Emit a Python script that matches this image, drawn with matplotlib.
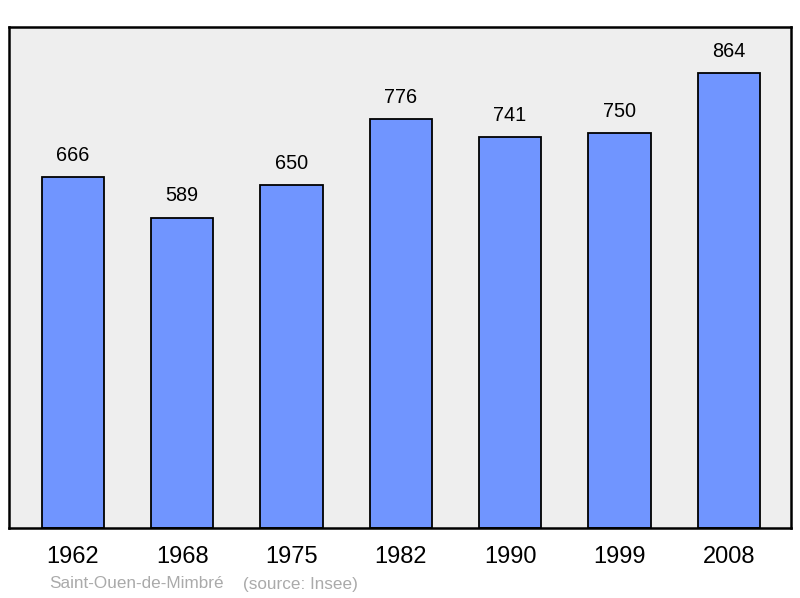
import matplotlib.pyplot as plt

years = ['1962', '1968', '1975', '1982', '1990', '1999', '2008']
population = [666, 589, 650, 776, 741, 750, 864]
commune = 'Saint-Ouen-de-Mimbré'
source = '(source: Insee)'

plt.rcParams['font.family'] = ['Liberation Sans', 'DejaVu Sans']

fig = plt.figure(figsize=(8, 5.98), dpi=100)
ax = fig.add_axes([9 / 800, 70 / 598, 782 / 800, 501 / 598])
ax.set_facecolor('#eeeeee')

x = range(len(years))
bars = ax.bar(x, population, width=0.57, color='#7095ff',
              edgecolor='black', linewidth=1.3, zorder=2)
for xi, v in zip(x, population):
    ax.annotate(str(v), (xi, v), xytext=(0, 15.5), textcoords='offset points',
                ha='center', va='center', fontsize=14.3)

ax.set_xlim(-0.585, 6.57)
ax.set_ylim(0, max(population) * 1.1)
ax.set_yticks([])
ax.set_xticks(list(x))
ax.set_xticklabels(years, fontsize=17)
ax.tick_params(axis='x', length=0, pad=13)
for s in ax.spines.values():
    s.set_linewidth(1.8)

fig.text(49 / 800, 1 - 584 / 598, commune, fontsize=12.3, color='#aaaaaa',
         va='center', ha='left')
fig.text(243 / 800, 1 - 584 / 598, source, fontsize=12.3, color='#aaaaaa',
         va='center', ha='left')

fig.savefig('out.png', dpi=100)
